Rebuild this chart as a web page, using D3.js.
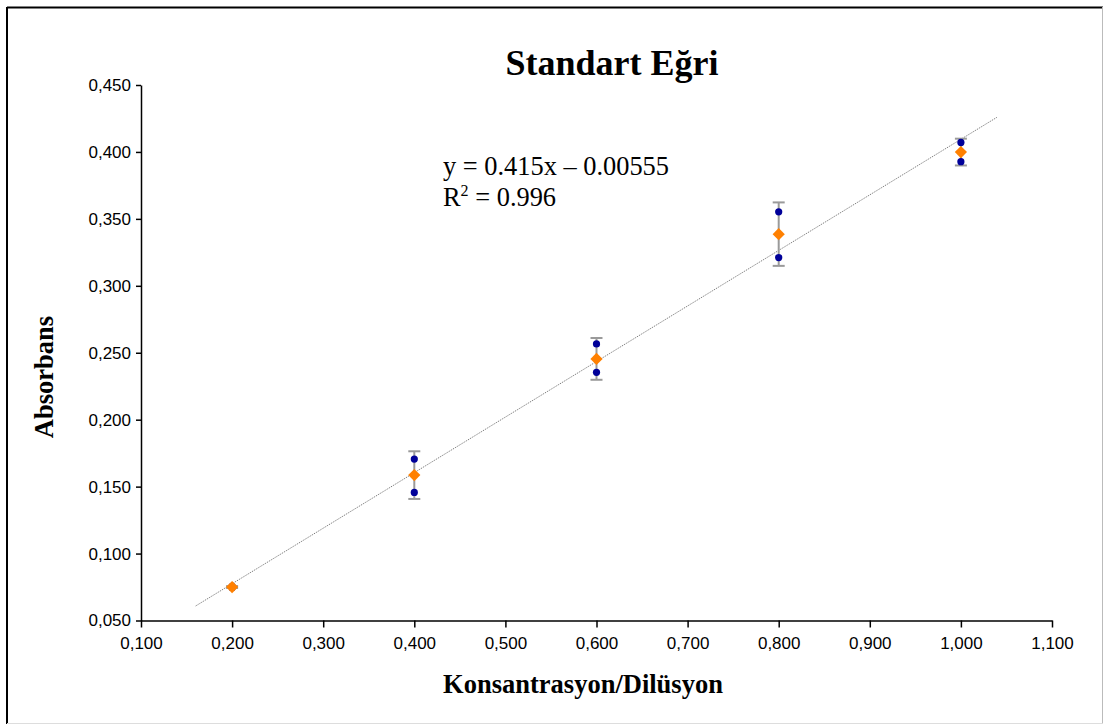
<!DOCTYPE html>
<html>
<head>
<meta charset="utf-8">
<script src="https://cdn.jsdelivr.net/npm/d3@7"></script>
<style>
  html, body { margin: 0; padding: 0; background: #fff; }
  svg { display: block; }
</style>
</head>
<body>
<svg id="chart" width="1105" height="725"></svg>
<script>
// ---- data ----
const concentrations = [0.2, 0.4, 0.6, 0.8, 1.0];
const replicateA = [0.0755, 0.1706, 0.2566, 0.3553, 0.4071];
const replicateB = [0.0745, 0.1457, 0.2354, 0.3211, 0.3927];
const means = [0.0750, 0.1586, 0.2454, 0.3386, 0.3999];
const errors = [0.0007, 0.0178, 0.0156, 0.0237, 0.0100];
const xTicks = [0.1, 0.2, 0.3, 0.4, 0.5, 0.6, 0.7, 0.8, 0.9, 1.0, 1.1];
const yTicks = [0.05, 0.10, 0.15, 0.20, 0.25, 0.30, 0.35, 0.40, 0.45];
const trendSlope = 0.415;
const trendIntercept = -0.00555;
const trendRange = [0.16, 1.04];
const titleText = "Standart Eğri";
const xLabel = "Konsantrasyon/Dilüsyon";
const yLabel = "Absorbans";
const eqLine1 = "y = 0.415x – 0.00555";
const eqLine2 = "0.996";

// ---- layout ----
const svg = d3.select("#chart");
const x = d3.scaleLinear().domain([0.1, 1.1]).range([141, 1052]);
const y = d3.scaleLinear().domain([0.05, 0.45]).range([620.5, 85]);
const fmt = v => d3.format(".3f")(v).replace(".", ",");

// frame
svg.append("line").attr("x1", 7).attr("x2", 7).attr("y1", 7).attr("y2", 724).attr("stroke", "#000").attr("stroke-width", 2);
svg.append("line").attr("x1", 7).attr("x2", 1103).attr("y1", 7.5).attr("y2", 7.5).attr("stroke", "#000").attr("stroke-width", 2);
svg.append("line").attr("x1", 1102.5).attr("x2", 1102.5).attr("y1", 7).attr("y2", 724).attr("stroke", "#bbb").attr("stroke-width", 1);
svg.append("line").attr("x1", 7).attr("x2", 1103).attr("y1", 723.5).attr("y2", 723.5).attr("stroke", "#ddd").attr("stroke-width", 1);

// axes
const xAxis = svg.append("g").attr("transform", `translate(0,${y(0.05)})`)
  .call(d3.axisBottom(x).tickValues(xTicks).tickFormat(fmt).tickSizeInner(7).tickSizeOuter(0).tickPadding(9));
const yAxis = svg.append("g").attr("transform", `translate(${x(0.1)},0)`)
  .call(d3.axisLeft(y).tickValues(yTicks).tickFormat(fmt).tickSizeInner(5).tickSizeOuter(0).tickPadding(5));
[xAxis, yAxis].forEach(g => {
  g.select(".domain").attr("stroke", "#000").attr("stroke-width", 1.5);
  g.selectAll(".tick line").attr("stroke", "#000").attr("stroke-width", 1.5);
  g.selectAll(".tick text").attr("fill", "#000")
    .style("font-family", "'Liberation Sans', Arial, sans-serif").style("font-size", "17px");
});

// trendline
const trendLine = d3.line().x(d => x(d)).y(d => y(trendSlope * d + trendIntercept));
svg.append("path").datum(trendRange).attr("d", trendLine)
  .attr("fill", "none").attr("stroke", "#7a7a7a").attr("stroke-width", 1).attr("stroke-dasharray", "1.2,1");

// error bars
const eb = svg.append("g").attr("stroke", "#9a9a9a").attr("stroke-width", 2);
concentrations.forEach((c, i) => {
  const top = y(means[i] + errors[i]), bot = y(means[i] - errors[i]), cx = x(c);
  eb.append("line").attr("x1", cx).attr("x2", cx).attr("y1", top).attr("y2", bot);
  eb.append("line").attr("x1", cx - 6).attr("x2", cx + 6).attr("y1", top).attr("y2", top);
  eb.append("line").attr("x1", cx - 6).attr("x2", cx + 6).attr("y1", bot).attr("y2", bot);
});

// replicate points
const reps = [];
concentrations.forEach((c, i) => { reps.push([c, replicateA[i]]); reps.push([c, replicateB[i]]); });
svg.append("g").selectAll("circle").data(reps).join("circle")
  .attr("cx", d => x(d[0])).attr("cy", d => y(d[1])).attr("r", 3.6).attr("fill", "#000099");

// mean diamonds
svg.append("g").selectAll("path").data(concentrations).join("path")
  .attr("d", d3.symbol(d3.symbolDiamond2, 95))
  .attr("transform", (d, i) => `translate(${x(d)},${y(means[i])})`)
  .attr("fill", "#ff8000");

// title & labels
svg.append("text").attr("x", 612).attr("y", 75).attr("text-anchor", "middle")
  .style("font-family", "'Liberation Serif', 'Times New Roman', serif").style("font-weight", "bold").style("font-size", "36px")
  .text(titleText);
svg.append("text").attr("x", 583).attr("y", 693).attr("text-anchor", "middle")
  .style("font-family", "'Liberation Serif', 'Times New Roman', serif").style("font-weight", "bold").style("font-size", "26.5px")
  .text(xLabel);
svg.append("text").attr("transform", "translate(53,377) rotate(-90)").attr("text-anchor", "middle")
  .style("font-family", "'Liberation Serif', 'Times New Roman', serif").style("font-weight", "bold").style("font-size", "26.5px")
  .text(yLabel);

// equation
const eq = svg.append("g").style("font-family", "'Liberation Serif', 'Times New Roman', serif").style("font-size", "26.4px").attr("fill", "#000");
eq.append("text").attr("x", 443).attr("y", 175).text(eqLine1);
const t2 = eq.append("text").attr("x", 443).attr("y", 206);
t2.append("tspan").text("R");
t2.append("tspan").attr("dy", -10).style("font-size", "16px").text("2");
t2.append("tspan").attr("dy", 10).text(" = " + eqLine2);
</script>
</body>
</html>
